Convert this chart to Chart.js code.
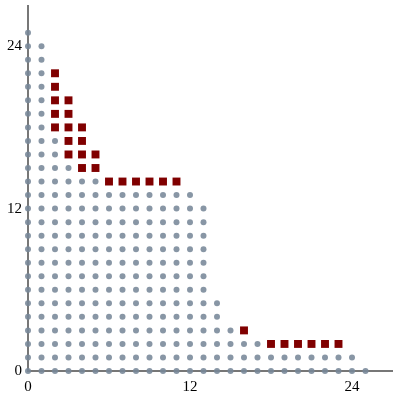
<!DOCTYPE html>
<html>
<head>
<meta charset="utf-8">
<script src="https://cdn.jsdelivr.net/npm/chart.js@4/dist/chart.umd.min.js"></script>
<style>
html,body{margin:0;padding:0;background:#fff;}
#c{display:block;}
</style>
</head>
<body>
<canvas id="c" width="400" height="400"></canvas>
<script>
// Gray lattice: for each row y, dots at x = 0 .. rowMaxX
const rowY    = [0, 1, 2, 3, 4, 5, 6, 7, 8, 9, 10, 11, 12, 13, 14, 15, 16, 17, 18, 19, 20, 21, 22, 23, 24, 25];
const rowMaxX = [25, 24, 17, 15, 14, 14, 13, 13, 13, 13, 13, 13, 13, 12, 5, 3, 2, 2, 1, 1, 1, 1, 1, 1, 1, 0];

// Red squares
const redX = [2, 2, 2, 2, 2, 3, 3, 3, 3, 3, 4, 4, 4, 4, 5, 5, 6, 7, 8, 9, 10, 11, 16, 18, 19, 20, 21, 22, 23];
const redY = [22, 21, 20, 19, 18, 20, 19, 18, 17, 16, 18, 17, 16, 15, 16, 15, 14, 14, 14, 14, 14, 14, 3, 2, 2, 2, 2, 2, 2];

const tickValues = [0, 12, 24];

const grayPts = [];
rowY.forEach((y, i) => {
  for (let x = 0; x <= rowMaxX[i]; x++) grayPts.push({x: x, y: y});
});
const redPts = redX.map((x, i) => ({x: x, y: redY[i]}));

const font = {family: "'Liberation Serif', 'Times New Roman', serif", size: 15};

new Chart(document.getElementById('c'), {
  type: 'scatter',
  data: {
    datasets: [
      {data: grayPts, pointRadius: 3, pointHoverRadius: 3, pointBorderWidth: 0,
       backgroundColor: 'rgba(119,136,153,0.88)', borderColor: 'rgba(0,0,0,0)', clip: false},
      {data: redPts, pointStyle: 'rect', pointRadius: 5.6, pointHoverRadius: 5.6, pointBorderWidth: 0,
       backgroundColor: '#800000', borderColor: 'rgba(0,0,0,0)', clip: false}
    ]
  },
  options: {
    responsive: false,
    animation: false,
    devicePixelRatio: 1,
    layout: {padding: {left: 0, top: 5.5, right: 7.5, bottom: 0}},
    plugins: {legend: {display: false}, tooltip: {enabled: false}},
    scales: {
      x: {
        type: 'linear', min: 0, max: 27,
        afterFit: s => { s.height = 29; s.paddingLeft = 0; s.paddingRight = 0; },
        afterBuildTicks: s => { s.ticks = tickValues.map(v => ({value: v})); },
        grid: {display: false, drawTicks: false},
        border: {display: true, color: '#777', width: 2},
        ticks: {color: '#000', font: font, padding: 7, maxRotation: 0}
      },
      y: {
        type: 'linear', min: 0, max: 27,
        afterFit: s => { s.width = 28; s.paddingTop = 0; s.paddingBottom = 0; },
        afterBuildTicks: s => { s.ticks = tickValues.map(v => ({value: v})); },
        grid: {display: false, drawTicks: false},
        border: {display: true, color: '#777', width: 2},
        ticks: {color: '#000', font: font, padding: 6}
      }
    }
  }
});
</script>
</body>
</html>
